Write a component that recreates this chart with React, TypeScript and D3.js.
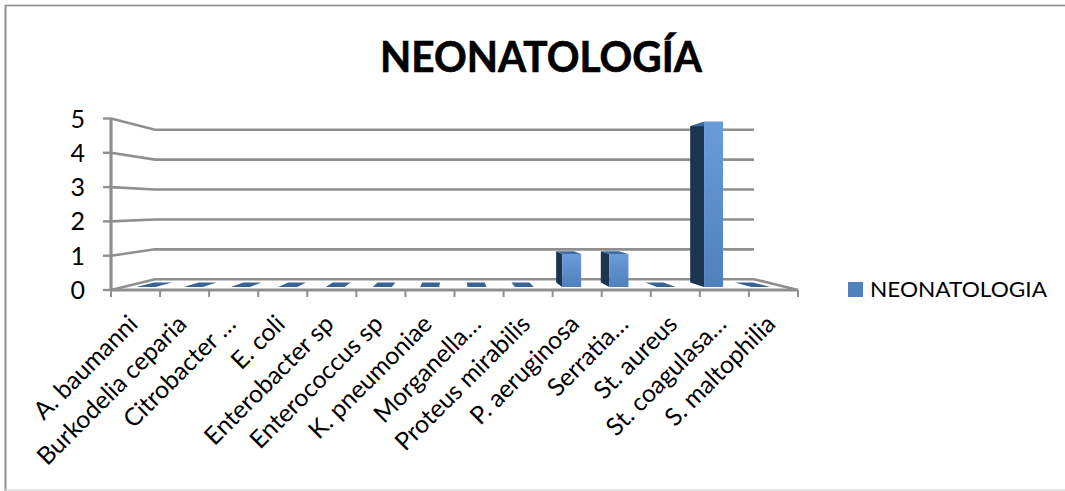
import React from 'react';
import * as d3 from 'd3';

const categories = ['A. baumanni','Burkodelia ceparia','Citrobacter …','E. coli','Enterobacter sp','Enterococcus sp','K. pneumoniae','Morganella…','Proteus mirabilis','P. aeruginosa','Serratia…','St. aureus','St. coagulasa…','S. maltophilia'];
const values = [0,0,0,0,0,0,0,0,0,1,1,0,5,0];
const yTicks = [0,1,2,3,4,5];
const seriesName = 'NEONATOLOGIA';
const chartTitle = 'NEONATOLOGÍA';

const FONT = 'Lato, "Open Sans", sans-serif';
const x = d3.scaleBand<string>().domain(categories).range([111, 798]).paddingInner(0).paddingOuter(0);
const y = d3.scaleLinear().domain([0, 5]).range([290, 118.5]);
const depth = d3.scaleLinear().domain([0, 1]).range([1, 0.872]);
const cx = 454.5, cy = 206;
const p = (px: number, py: number, z: number): [number, number] => {
  const s = depth(z);
  return [cx + (px - cx) * s, cy + (py - cy) * s];
};
const line = d3.line();
const poly = (pts: [number, number][]) => line(pts) + 'Z';
const GRID = '#8f8f8f';

export default function App() {
  const bw = 19.7, z0 = 0.28, z1 = 0.7;
  const step = x.step();
  return (
    <svg width={1065} height={491} style={{ position: 'absolute', left: 0, top: 0, background: '#fff' }}>
      <defs>
        <linearGradient id="front" x1="0" y1="0" x2="0" y2="1">
          <stop offset="0" stopColor="#6a9cd9" />
          <stop offset="1" stopColor="#4f80bc" />
        </linearGradient>
        <filter id="soft" x="-5%" y="-5%" width="110%" height="110%"><feGaussianBlur stdDeviation="0.5" /></filter>
      </defs>
      <line x1={5} x2={1065} y1={5.5} y2={5.5} stroke="#858585" strokeWidth={1.6} />
      <line x1={5.5} x2={5.5} y1={5} y2={491} stroke="#909090" strokeWidth={2} />
      <line x1={5} x2={1065} y1={490} y2={490} stroke="#d8d8d8" strokeWidth={1.5} />
      <text x={541} y={72} textAnchor="middle" fontFamily={FONT} fontWeight={700} fontSize={42} fill="#000" stroke="#000" strokeWidth={0.6} textLength={322} lengthAdjust="spacingAndGlyphs">{chartTitle}</text>
      <g filter="url(#soft)">
        {yTicks.map(t => {
          const a = p(111, y(t), 0), b = p(111, y(t), 1), c = p(798, y(t), 1);
          return <g key={t}>
            <path d={line([a, b, c])!} fill="none" stroke={GRID} strokeWidth={2.6} />
            <line x1={103} x2={111} y1={y(t)} y2={y(t)} stroke={GRID} strokeWidth={2.4} />
          </g>;
        })}
        <line x1={111} x2={111} y1={y(5)} y2={y(0)} stroke={GRID} strokeWidth={3.2} />
        <path d={line([p(798, y(0), 1), p(798, y(0), 0)])!} stroke={GRID} strokeWidth={2.6} fill="none" />
        <line x1={111} x2={798} y1={y(0)} y2={y(0)} stroke={GRID} strokeWidth={3} />
        {[...categories.map(c => x(c)!), 798].map((t, i) => <line key={i} x1={t} x2={t} y1={290} y2={297} stroke={GRID} strokeWidth={2} />)}
        {categories.map((c, i) => {
          const l = x(c)! + step / 2 - bw / 2 - 1.2, r = l + bw, v = values[i];
          const b = y(0), t = y(v);
          const showLeft = l > cx;
          const sx = showLeft ? l : r;
          return <g key={c}>
            {v > 0 && <path d={poly([p(sx, b, z0), p(sx, b, z1), p(sx, t, z1), p(sx, t, z0)])} fill="#1f3550" />}
            <path d={poly([p(l, t, z0), p(r, t, z0), p(r, t, z1), p(l, t, z1)])} fill={v > 0 ? '#3f6a9e' : '#376396'} />
            {v > 0 && <path d={poly([p(l, b, z0), p(r, b, z0), p(r, t, z0), p(l, t, z0)])} fill="url(#front)" />}
          </g>;
        })}
      </g>
      {yTicks.map(t => <text key={t} x={85} y={y(t) + 9} textAnchor="end" fontFamily={FONT} fontSize={25} fill="#000">{t}</text>)}
      {categories.map(c => {
        const tx = x(c)! + step / 2 - 10, ty = 312;
        return <text key={c} transform={`translate(${tx},${ty}) rotate(-45)`} textAnchor="end" dominantBaseline="hanging" fontFamily={FONT} fontSize={24.7} fill="#000">{c}</text>;
      })}
      <rect x={848} y={282} width={15} height={15} fill="#4f81bd" />
      <text x={870} y={297} fontFamily={FONT} fontSize={22} fill="#000" textLength={177} lengthAdjust="spacingAndGlyphs">{seriesName}</text>
    </svg>
  );
}
